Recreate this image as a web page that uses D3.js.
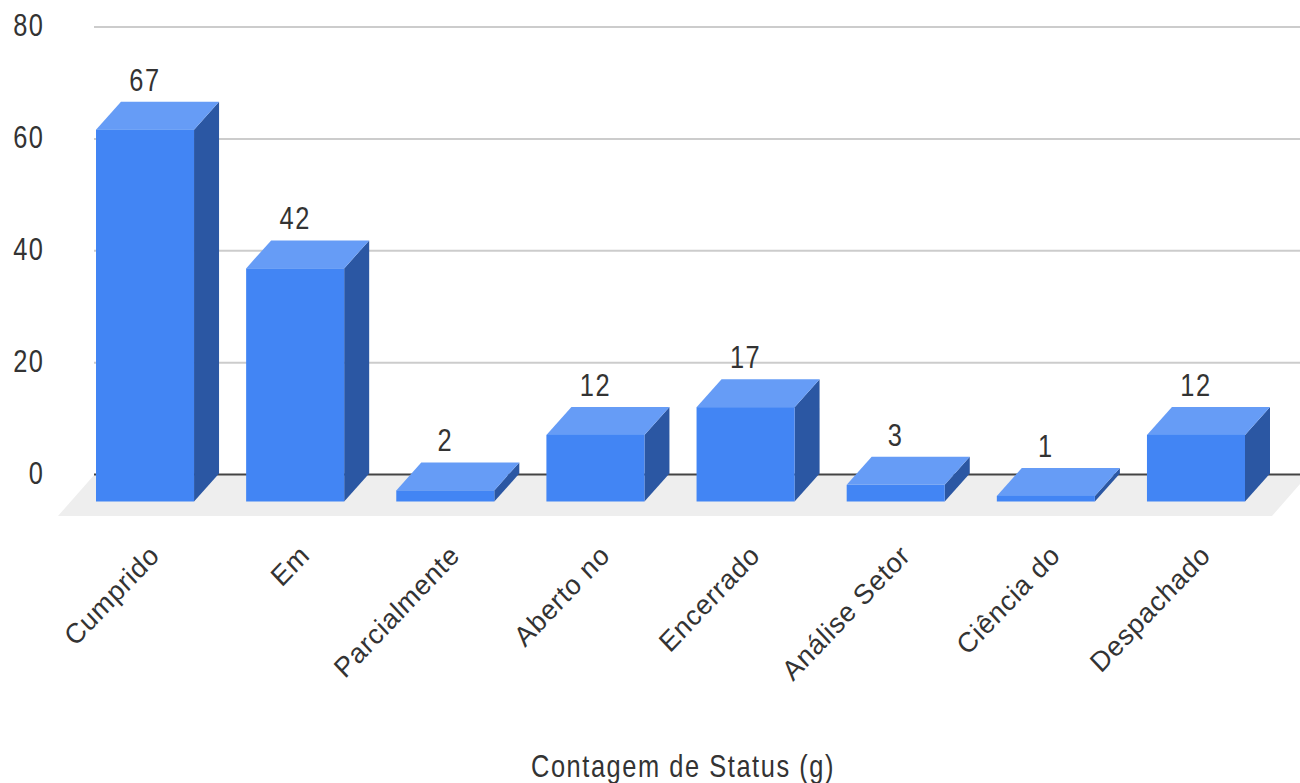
<!DOCTYPE html>
<html>
<head>
<meta charset="utf-8">
<script src="https://cdn.jsdelivr.net/npm/d3@7"></script>
<style>
  html, body { margin: 0; padding: 0; background: #fff; overflow: hidden; }
  text { font-family: "Liberation Sans", Arial, sans-serif; fill: #333; }
</style>
</head>
<body>
<svg id="chart" width="1300" height="783"></svg>
<script>
const categories = ["Cumprido", "Em", "Parcialmente", "Aberto no", "Encerrado", "Análise Setor", "Ciência do", "Despachado"];
const counts = [67, 42, 2, 12, 17, 3, 1, 12];
const yTicks = [0, 20, 40, 60, 80];
const axisTitle = "Contagem de Status (g)";

const W = 1300;
const depthX = 25, depthY = -28;
// Tall, narrow, loosely spaced lettering
const textSX = 0.82, textSize = "31px", textSpacing = "1.9px";

const svg = d3.select("#chart");

const x = d3.scaleBand().domain(categories).range([96, 1245]).paddingInner(0.347).paddingOuter(0);
// Back wall scale carries the grid, front scale the bar faces
const yBack = d3.scaleLinear().domain([0, 80]).range([474, 26.5]);
const yFront = d3.scaleLinear().domain([0, 80]).range([501.5, 57.5]);

// Floor of the 3D plot
const floorY = 516;
svg.append("polygon")
  .attr("points", [[95, yBack(0)], [W, yBack(0)], [W, 484], [1272, floorY], [58, floorY]].map(p => p.join(",")).join(" "))
  .attr("fill", "#eeeeee");

// Grid and value axis
const gridG = svg.append("g").attr("transform", "translate(94,0)")
  .call(d3.axisLeft(yBack).tickValues(yTicks).tickSizeInner(-1206).tickSizeOuter(0).tickPadding(0));
gridG.select(".domain").remove();
gridG.selectAll(".tick line")
  .attr("stroke", d => d === 0 ? "#444" : "#ccc")
  .attr("stroke-width", 2);
gridG.selectAll(".tick text")
  .attr("x", -49.5 / textSX)
  .attr("dy", "0.3em")
  .attr("transform", `scale(${textSX},1)`)
  .attr("text-anchor", "end")
  .style("font-size", textSize)
  .style("letter-spacing", textSpacing)
  .style("font-family", '"Liberation Sans", Arial, sans-serif')
  .style("fill", "#333");

// Bars: side, top, front faces
const bars = svg.append("g").selectAll("g").data(categories).join("g");
const bw = x.bandwidth();
const count = i => counts[i];

bars.append("polygon").attr("fill", "#2b57a3")
  .attr("points", (c, i) => {
    const r = x(c) + bw, t = yFront(count(i)), b = yFront(0);
    return [[r, t], [r + depthX, t + depthY], [r + depthX, b + depthY], [r, b]].map(p => p.join(",")).join(" ");
  });
bars.append("polygon").attr("fill", "#669cf6")
  .attr("points", (c, i) => {
    const l = x(c), r = l + bw, t = yFront(count(i));
    return [[l, t], [l + depthX, t + depthY], [r + depthX, t + depthY], [r, t]].map(p => p.join(",")).join(" ");
  });
bars.append("rect").attr("fill", "#4285f4")
  .attr("x", c => x(c)).attr("width", bw)
  .attr("y", (c, i) => yFront(count(i)))
  .attr("height", (c, i) => yFront(0) - yFront(count(i)));

// Value labels above each bar
bars.append("text")
  .attr("text-anchor", "middle")
  .style("font-size", textSize)
  .style("letter-spacing", textSpacing)
  .attr("transform", (c, i) => `translate(${x(c) + bw / 2},${yFront(count(i)) + depthY - 11}) scale(${textSX},1)`)
  .text((c, i) => count(i));

// Category labels, slanted and ending under each bar
svg.append("g").selectAll("text").data(categories).join("text")
  .attr("text-anchor", "end")
  .style("font-size", "28px")
  .style("letter-spacing", "0.8px")
  .attr("transform", c => `translate(${x(c) + bw / 2 + 16},557) scale(0.95,1) rotate(-45)`)
  .text(c => c);

// Axis title
svg.append("text")
  .attr("text-anchor", "middle")
  .style("font-size", textSize)
  .style("letter-spacing", textSpacing)
  .attr("transform", `translate(683,776.5) scale(${textSX},1)`)
  .text(axisTitle);
</script>
</body>
</html>
